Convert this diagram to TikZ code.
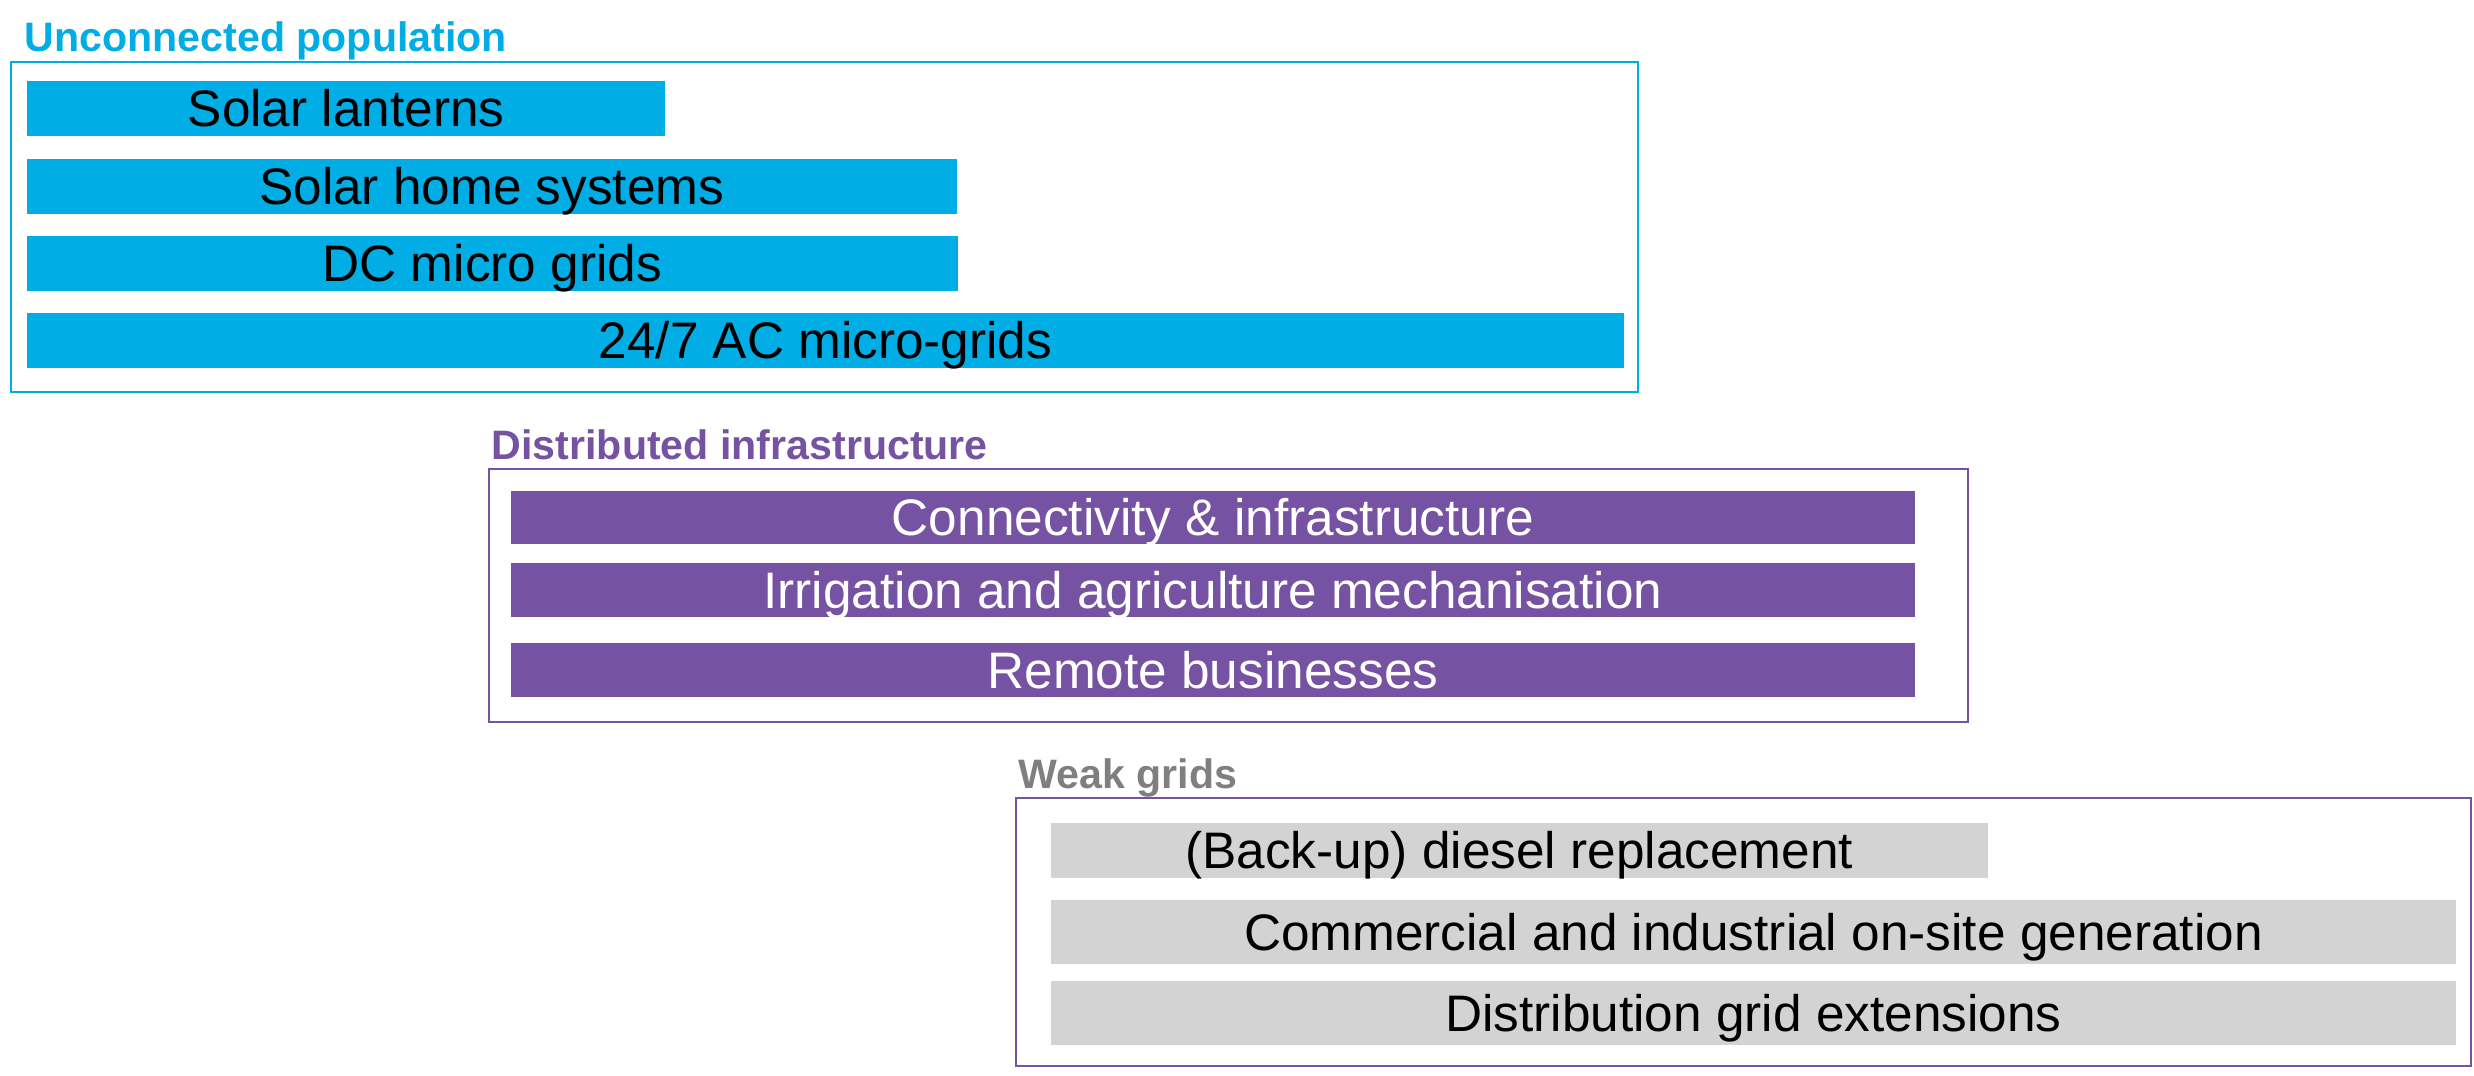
\documentclass[tikz,border=0pt]{standalone}
\usepackage{fontspec}
\setmainfont{Liberation Sans}
\definecolor{unconblue}{HTML}{00ADE5}
\definecolor{distpurple}{HTML}{7653A2}
\definecolor{weakgray}{HTML}{D3D3D3}
\definecolor{titlegray}{HTML}{7F7F7F}

\begin{document}
\begin{tikzpicture}[x=0.01cm,y=-0.01cm,
    bar/.style={anchor=north west,inner sep=0pt,outer sep=0pt,minimum height=0.55cm,
        font=\fontsize{14.6}{17}\selectfont,text height=10.45pt,text depth=0pt},
    bluebar/.style={bar,fill=unconblue,text=black},
    purplebar/.style={bar,fill=distpurple,text=white},
    graybar/.style={bar,fill=weakgray,text=black},
    grouptitle/.style={anchor=base west,inner sep=0pt,font=\bfseries\fontsize{11.7}{14}\selectfont},
    groupframe/.style={line width=0.8pt}]
    \useasboundingbox (0,0) rectangle (2474,1076);
    % unconnected population
    \node[grouptitle,text=unconblue] (untitle) at (24,52) {Unconnected population};
    \draw[groupframe,unconblue] (11,62) rectangle (1638,392);
    \node[bluebar,minimum width=6.38cm] (lantern) at (27,81) {Solar lanterns};
    \node[bluebar,minimum width=9.29cm] (shs) at (27,159) {Solar home systems};
    \node[bluebar,minimum width=9.30cm] (dcgrid) at (27,236) {DC micro grids};
    \node[bluebar,minimum width=15.96cm] (acgrid) at (27,313) {24/7 AC micro-grids};
    % distributed infrastructure
    \node[grouptitle,text=distpurple] (disttitle) at (491,459) {Distributed infrastructure};
    \draw[groupframe,distpurple] (489,469) rectangle (1968,722);
    \node[purplebar,minimum width=14.03cm,minimum height=0.53cm] (connect) at (511,491) {Connectivity \& infrastructure};
    \node[purplebar,minimum width=14.03cm,minimum height=0.54cm] (irrig) at (511,563) {Irrigation and agriculture mechanisation};
    \node[purplebar,minimum width=14.03cm,minimum height=0.54cm] (remote) at (511,643) {Remote businesses};
    % weak grids
    \node[grouptitle,text=titlegray] (weaktitle) at (1018,788) {Weak grids};
    \draw[groupframe,distpurple] (1016,798) rectangle (2471,1066);
    \node[graybar,minimum width=9.36cm] (diesel) at (1051,823) {(Back-up) diesel replacement};
    \node[graybar,minimum width=14.04cm,minimum height=0.64cm] (onsite) at (1051,900) {Commercial and industrial on-site generation};
    \node[graybar,minimum width=14.04cm,minimum height=0.64cm] (distext) at (1051,981) {Distribution grid extensions};
\end{tikzpicture}
\end{document}
